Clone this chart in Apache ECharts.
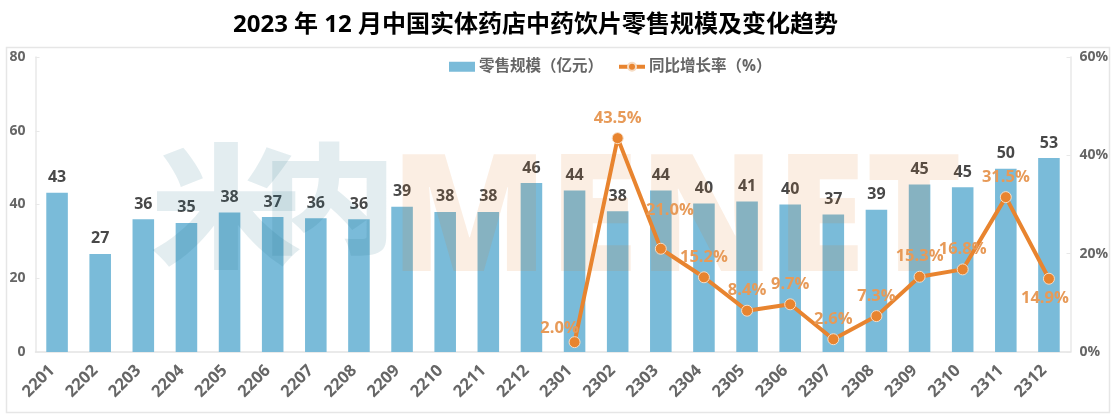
<!DOCTYPE html>
<html><head><meta charset="utf-8">
<style>html,body{margin:0;padding:0;background:#fff}#c{width:1116px;height:418px}</style>
<script src="https://cdn.jsdelivr.net/npm/echarts@6/dist/echarts.min.js"></script>
</head><body><div id="c"></div>
<script>
const categories = ['2201','2202','2203','2204','2205','2206','2207','2208','2209','2210','2211','2212','2301','2302','2303','2304','2305','2306','2307','2308','2309','2310','2311','2312'];
const retailScale = [43.2,26.6,36,35,37.8,36.6,36.3,36,39.4,38,38,45.8,43.8,38.2,43.8,40.3,40.8,40,37.3,38.6,45.4,44.7,49.7,52.6];
const growthRate = [null,null,null,null,null,null,null,null,null,null,null,null,2.0,43.5,21.0,15.2,8.4,9.7,2.6,7.3,15.3,16.8,31.5,14.9];
const barName = '零售规模（亿元）';
const lineName = '同比增长率（%）';
const titleText = '2023 年 12 月中国实体药店中药饮片零售规模及变化趋势';
const FONT = '"Open Sans","Noto Sans CJK SC",sans-serif';
const labelShift = {'2301':[-15,6],'2303':[9,-18],'2312':[-4,40]};
const chart = echarts.init(document.getElementById('c'), null, {renderer:'canvas'});
chart.setOption({
  animation:false,
  backgroundColor:'#fff',
  title:{text:titleText,left:530.5,top:8,textAlign:'center',textStyle:{fontFamily:FONT,fontSize:24,fontWeight:'bold',color:'#000'}},
  legend:{top:54,left:444,itemGap:14,itemHeight:10,itemWidth:26,
    textStyle:{fontFamily:FONT,fontSize:15.5,fontWeight:'bold',color:'#666',padding:[0,0,0,-1]},
    data:[{name:barName,icon:'rect'},{name:lineName,lineStyle:{width:4}}]},
  grid:{left:35.5,right:45.5,top:57,bottom:66},
  graphic:[
    {type:'rect',z:0,silent:true,shape:{x:6.5,y:47.5,width:1103,height:365},style:{fill:'none',stroke:'#e6e6e6',lineWidth:1.5}},
    {type:'text',z:3,silent:true,x:150,y:139,scaleY:0.88,style:{text:'米',font:'900 152px "Noto Sans CJK SC"',fill:'#196c85',opacity:0.12}},
    {type:'text',z:3,silent:true,x:261,y:139,scaleY:0.88,style:{text:'内',font:'900 136px "Noto Sans CJK SC"',fill:'#196c85',opacity:0.12}},
    {type:'text',z:3,silent:true,x:390,y:142,style:{text:'MENET',font:'900 164px "Noto Sans","Open Sans",sans-serif',fill:'#e17419',opacity:0.12}}
  ],
  xAxis:{type:'category',data:categories,
    axisLine:{lineStyle:{color:'#e4e4e4',width:1.5}},axisTick:{show:false},
    axisLabel:{rotate:45,margin:11,padding:[0,7,0,0],fontFamily:FONT,fontSize:16.5,fontWeight:'bold',color:'#666',interval:0}},
  yAxis:[
    {type:'value',min:0,max:80,interval:20,splitLine:{show:false},
     axisLine:{show:true,lineStyle:{color:'#e8e8e8',width:1.5}},axisTick:{show:true,inside:true,length:4,lineStyle:{color:'#e8e8e8'}},
     axisLabel:{margin:10,fontFamily:FONT,fontSize:14,fontWeight:'bold',color:'#666'}},
    {type:'value',min:0,max:60,interval:20,splitLine:{show:false},position:'right',
     axisLine:{show:true,lineStyle:{color:'#e8e8e8',width:1.5}},axisTick:{show:true,inside:true,length:4,lineStyle:{color:'#e8e8e8'}},
     axisLabel:{margin:9,fontFamily:FONT,fontSize:14,fontWeight:'bold',color:'#666',formatter:'{value}%'}}
  ],
  series:[
    {name:barName,type:'bar',z:2,yAxisIndex:0,data:retailScale,barWidth:'50%',
     itemStyle:{color:'#7abbd9'},
     label:{show:true,position:'top',distance:7,fontFamily:FONT,fontSize:16,fontWeight:'bold',color:'#484848',
       formatter:p=>Math.round(p.value)}},
    {name:lineName,type:'line',z:5,yAxisIndex:1,
     data:growthRate.map((v,i)=>{
       const s=labelShift[categories[i]];
       return s?{value:v,label:{offset:s}}:v;
     }),
     connectNulls:false,showSymbol:true,symbol:'circle',symbolSize:11,
     lineStyle:{color:'#e8842f',width:4},
     itemStyle:{color:'#e8842f',borderColor:'#f6dcc4',borderWidth:1},
     label:{show:true,position:'top',distance:6,fontFamily:FONT,fontSize:16.5,fontWeight:'bold',color:'#e79a58',
       formatter:p=>p.value.toFixed(1)+'%'}}
  ]
});
</script></body></html>
